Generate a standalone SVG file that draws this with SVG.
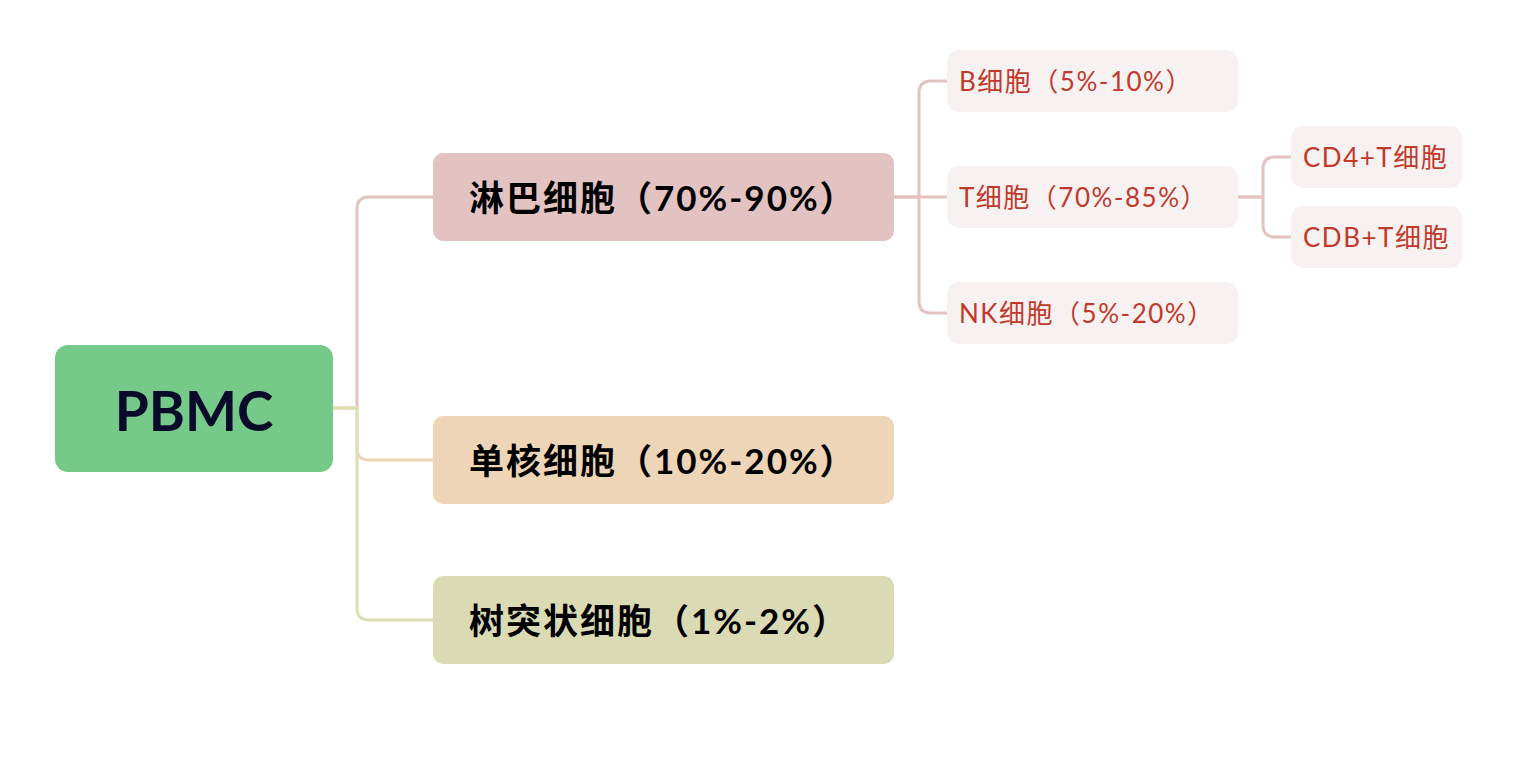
<svg xmlns="http://www.w3.org/2000/svg" width="1522" height="760" viewBox="0 0 1522 760">
<style>
.t1{font-family:Lato,"Noto Sans CJK SC",sans-serif;font-weight:700;font-size:35px;letter-spacing:2px;fill:#000;dominant-baseline:central}
.t2{font-family:Lato,"Noto Sans CJK SC",sans-serif;font-size:26px;letter-spacing:1.5px;fill:#c0392b;dominant-baseline:central}
.c{fill:none;stroke-width:3;stroke-linecap:round;stroke-linejoin:round}
.pk{stroke:#e2c3c2}
.l2{fill:#f8f1f1}
</style>
<rect width="1522" height="760" fill="#fff"/>
<g id="connectors">
<path class="c pk" d="M333,408 H357 V209 Q357,197 369,197 H433"/>
<path class="c" stroke="#eed5b7" d="M333,408 H357 V448 Q357,460 369,460 H433"/>
<path class="c" stroke="#dcdfb6" d="M333,408 H357 V608 Q357,620 369,620 H433"/>
<path class="c pk" d="M894,197 H919 V93 Q919,81 931,81 H947"/>
<path class="c pk" d="M894,197 H947"/>
<path class="c pk" d="M894,197 H919 V301 Q919,313 931,313 H947"/>
<path class="c pk" d="M1238,197 H1263 V169 Q1263,157 1275,157 H1291"/>
<path class="c pk" d="M1238,197 H1263 V225 Q1263,237 1275,237 H1291"/>
</g>
<g id="pbmc">
<rect x="55" y="345" width="278" height="127" rx="13" fill="#75c989"/>
<text x="194" y="410" text-anchor="middle" font-family="Lato,sans-serif" font-weight="700" font-size="55" fill="#0a0a2a" dominant-baseline="central">PBMC</text>
</g>
<g id="lymph">
<rect x="433" y="153" width="461" height="88" rx="10" fill="#e2c3c2"/>
<text class="t1" x="469" y="197">淋巴细胞（70%-90%）</text>
</g>
<g id="mono">
<rect x="433" y="416" width="461" height="88" rx="10" fill="#eed5b7"/>
<text class="t1" x="469" y="460">单核细胞（10%-20%）</text>
</g>
<g id="dendritic">
<rect x="433" y="576" width="461" height="88" rx="10" fill="#dadbb5"/>
<text class="t1" x="469" y="620">树突状细胞（1%-2%）</text>
</g>
<g id="bcell">
<rect class="l2" x="947" y="50" width="291" height="62" rx="12"/>
<text class="t2" x="959" y="81">B细胞（5%-10%）</text>
</g>
<g id="tcell">
<rect class="l2" x="947" y="166" width="291" height="62" rx="12"/>
<text class="t2" x="959" y="197">T细胞（70%-85%）</text>
</g>
<g id="nkcell">
<rect class="l2" x="947" y="282" width="291" height="62" rx="12"/>
<text class="t2" x="959" y="313">NK细胞（5%-20%）</text>
</g>
<g id="cd4">
<rect class="l2" x="1291" y="126" width="171" height="62" rx="12"/>
<text class="t2" x="1303" y="157">CD4+T细胞</text>
</g>
<g id="cdb">
<rect class="l2" x="1291" y="206" width="171" height="62" rx="12"/>
<text class="t2" x="1303" y="237">CDB+T细胞</text>
</g>
</svg>
